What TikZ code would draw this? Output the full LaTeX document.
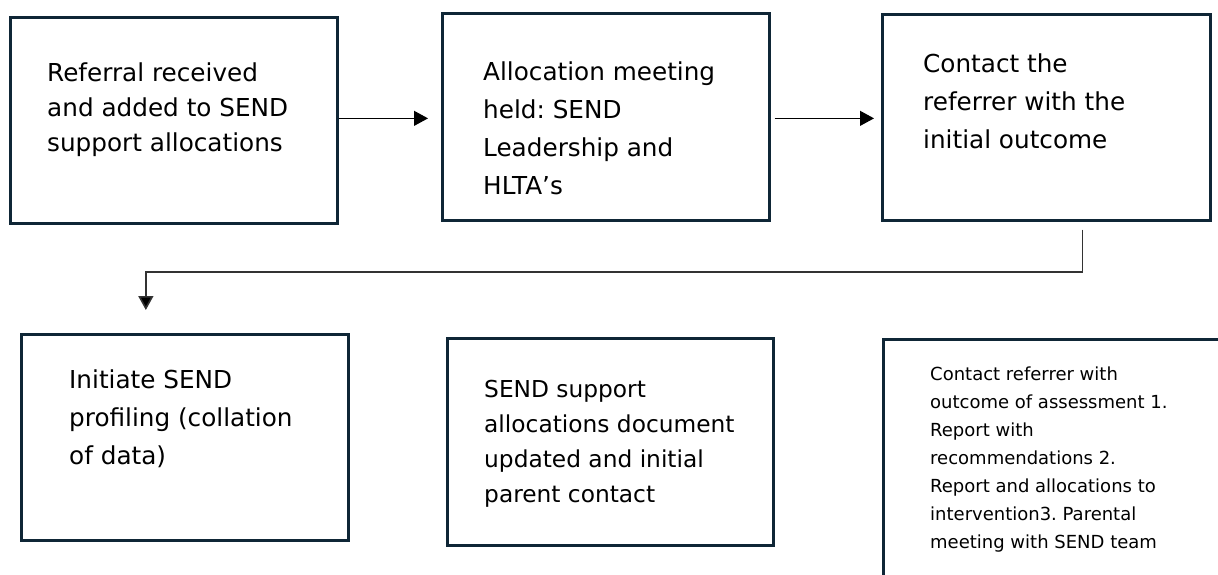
\documentclass[tikz,border=0pt]{standalone}
\usepackage{fontspec}
\setmainfont{DejaVu Sans}
\frenchspacing
\usetikzlibrary{arrows.meta}
\definecolor{boxline}{HTML}{0F2636}
\definecolor{elbowline}{HTML}{333333}
\tikzset{
  box/.style={draw=boxline, line width=2.7pt, rectangle, inner sep=0pt, anchor=north west},
  txt/.style={anchor=base west, inner sep=0pt, text=black},
  bigtxt/.style={txt, font=\fontsize{24.7}{38}\selectfont},
  arr/.style={draw=black, line width=1.1pt, -{Triangle[length=14pt,width=15pt]}},
  elbow/.style={draw=elbowline, line width=1.6pt, -{Triangle[length=14pt,width=15pt,fill=black]}}
}
\begin{document}
\begin{tikzpicture}[x=1pt,y=-1pt]
\useasboundingbox (0,0) rectangle (1218,574);
\clip (0,0) rectangle (1218,574);
\fill[white] (0,0) rectangle (1218,574);

% boxes
\node[box, minimum width=327pt, minimum height=206pt] (b1) at (9,16) {};
\node[box, minimum width=327pt, minimum height=207pt] (b2) at (441,12) {};
\node[box, minimum width=328pt, minimum height=206pt] (b3) at (881,13) {};
\node[box, minimum width=327pt, minimum height=206pt] (b4) at (20,333) {};
\node[box, minimum width=326pt, minimum height=207pt] (b5) at (446,337) {};
\node[box, minimum width=420pt, minimum height=320pt] (b6) at (882,338) {};

% texts
\node[txt, font=\fontsize{24.7}{35}\selectfont] (t1) at (47,81)
  {\begin{tabular}[t]{@{}l@{}}Referral received\\and added to SEND\\support allocations\end{tabular}};
\node[bigtxt] (t2) at (483,80)
  {\begin{tabular}[t]{@{}l@{}}Allocation meeting\\held: SEND\\Leadership and\\HLTA’s\end{tabular}};
\node[bigtxt] (t3) at (923,72)
  {\begin{tabular}[t]{@{}l@{}}Contact the\\referrer with the\\initial outcome\end{tabular}};
\node[bigtxt] (t4) at (69,388)
  {\begin{tabular}[t]{@{}l@{}}Initiate SEND\\profiling (collation\\of data)\end{tabular}};
\node[txt, font=\fontsize{23.3}{35}\selectfont] (t5) at (484,397)
  {\begin{tabular}[t]{@{}l@{}}SEND support\\allocations document\\updated and initial\\parent contact\end{tabular}};
\node[txt, font=\fontsize{18}{28}\selectfont] (t6) at (930,380)
  {\begin{tabular}[t]{@{}l@{}}Contact referrer with\\outcome of assessment 1.\\Report with\\recommendations 2.\\Report and allocations to\\intervention3. Parental\\meeting with SEND team\end{tabular}};

% connectors
\draw[arr] ([yshift=2pt]b1.east) -- ([yshift=2pt]b1.east -| b2.west) [shorten >=13pt];
\draw[arr, shorten <=4pt, shorten >=7pt] ([yshift=-1.5pt]b2.east) -- ([yshift=-1.5pt]b2.east -| b3.west);
\draw[elbow] ([xshift=36pt,yshift=-8pt]b3.south) -- ++(0,42) -| ([xshift=-39pt,yshift=23pt]b4.north);
\end{tikzpicture}
\end{document}
